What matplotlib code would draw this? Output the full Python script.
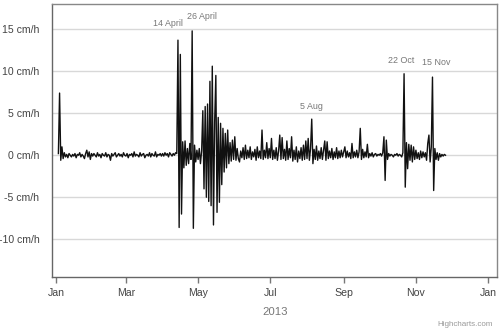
import numpy as np
import pandas as pd
import matplotlib
matplotlib.use('Agg')
import matplotlib.pyplot as plt
import matplotlib.dates as mdates

plt.rcParams['font.family'] = ['Liberation Sans', 'DejaVu Sans']

# 每月的日值 (cm/h)，1月从3日开始，11月到26日结束
month_start = {1: 3, 2: 1, 3: 1, 4: 1, 5: 1, 6: 1, 7: 1, 8: 1, 9: 1, 10: 1, 11: 1}
month_values = {
    1: [0.2, 7.4, -0.6, 1.0, -0.4, 0.3, -0.2, 0.1, -0.3, 0.2,
        0.0, -0.2, 0.1, -0.1, 0.2, -0.3, 0.1, 0.0, 0.3, -0.2,
        0.1, -0.1, -0.4, 0.2, 0.6, -0.2, 0.4, -0.5, 0.2],
    2: [-0.1, 0.2, 0.0, -0.2, 0.3, -0.1, 0.1, -0.3, 0.2, 0.0,
        -0.1, 0.3, -0.2, 0.1, 0.0, -0.6, 0.2, -0.1, 0.1, 0.3,
        -0.2, 0.0, 0.2, -0.1, 0.1, -0.2, 0.3, 0.0],
    3: [-0.1, 0.2, -0.3, 0.1, 0.0, 0.2, -0.2, 0.4, -0.1, 0.1,
        0.0, -0.2, 0.3, -0.1, 0.1, 0.2, -0.3, 0.0, 0.1, -0.1,
        0.3, -0.2, 0.2, 0.0, -0.1, 0.4, -0.2, 0.1, 0.0, 0.2, -0.1],
    4: [0.2, -0.1, 0.3, 0.0, 0.2, -0.2, 0.3, 0.1, -0.1, 0.2,
        0.0, 0.3, 0.2, 13.7, -8.6, 12.0, -7.0, 1.6, -1.5, 1.7,
        -1.2, 0.8, -1.0, 1.4, -0.5, 14.8, -8.7, 1.2, -0.8, 0.6],
    5: [-0.5, 0.8, -1.0, 0.5, 5.3, -4.0, 5.8, -5.0, 6.1, -5.5,
        8.8, -6.0, 10.6, -8.3, 4.0, 9.5, -6.8, 4.5, -5.6, 3.8,
        -3.5, 3.2, -2.0, 2.6, -1.5, 3.0, -1.0, 1.5, -0.7, 1.8, -0.5],
    6: [2.2, -0.6, 0.8, -0.4, -0.8, 0.5, -0.3, 0.9, -0.5, 1.2,
        -0.4, 0.6, -0.3, 1.0, -0.5, 0.4, -0.2, 0.7, -0.6, 1.0,
        -0.3, 0.5, -0.4, 3.0, -0.5, 0.6, -0.3, 1.5, -0.4, 0.8],
    7: [-0.3, 2.0, -0.5, 0.6, -0.4, 0.9, -0.6, 0.5, 2.4, -0.5,
        2.1, -0.4, 0.7, -0.6, 1.7, -0.5, 0.8, -0.3, 2.2, -0.7,
        0.6, -0.5, 1.0, -0.8, 0.5, -0.4, 0.9, -0.6, 1.2, -0.5, 1.7],
    8: [-0.4, 2.0, -0.6, 0.8, 4.3, -1.0, 0.7, -0.5, 1.1, -0.6,
        0.5, -0.4, 0.9, -0.5, 0.6, 1.7, -0.6, 1.6, -0.4, 0.5,
        -0.3, 0.8, -0.5, 0.4, -0.3, 0.9, -0.4, 0.5, -0.3, 0.6, -0.2],
    9: [0.4, 1.0, -0.3, 0.5, -0.2, 0.3, -0.4, 1.4, -0.3, 0.4,
        -0.2, 0.6, -0.3, 0.4, 3.2, -0.5, 0.7, -0.3, 0.4, -0.2,
        1.3, -0.3, 0.2, -0.1, 0.3, -0.2, 0.1, 0.2, -0.1, 0.1],
    10: [0.0, 0.2, -0.1, 0.3, 2.2, -3.0, 1.8, -0.5, 0.2, -0.1,
         0.1, 0.0, -0.2, 0.1, 0.0, 0.2, -0.1, 0.1, 0.0, -0.2,
         0.3, 9.7, -3.8, 1.5, -1.6, 1.3, -0.6, 1.2, -0.8, 1.0, -0.5],
    11: [0.6, -0.4, 0.3, -0.5, 0.5, -0.3, 0.4, -0.2, 0.3, -0.6,
         1.4, 2.4, -0.8, 1.0, 9.3, -4.2, 0.8, -0.5, 0.3, -0.6,
         0.2, -0.2, 0.1, -0.1, 0.1, 0.0],
}

# 标注
ann_labels = ['14 April', '26 April', '5 Aug', '22 Oct', '15 Nov']
ann_dates = ['2013-04-14', '2013-04-26', '2013-08-05', '2013-10-22', '2013-11-15']
ann_offsets = [(-7, 9), (7, 7), (0, 6), (-2, 6), (3, 7)]  # points

yticks = [-10, -5, 0, 5, 10, 15]
xtick_months = ['2013-01-01', '2013-03-01', '2013-05-01', '2013-07-01',
                '2013-09-01', '2013-11-01', '2014-01-01']

# 拼接日期与数值
dates = []
values = []
for m, vals in month_values.items():
    start = pd.Timestamp(2013, m, month_start[m])
    for i, v in enumerate(vals):
        dates.append(start + pd.Timedelta(days=i))
        values.append(v)
series = pd.Series(values, index=pd.DatetimeIndex(dates))

fig = plt.figure(figsize=(5, 3.35), dpi=100)
ax = fig.add_axes([0.104, 0.173, 0.89, 0.815])

ax.plot(series.index, series.values, color='#111111', lw=1.0)

for lab, d, off in zip(ann_labels, ann_dates, ann_offsets):
    ts = pd.Timestamp(d)
    ax.annotate(lab, xy=(ts, series[ts]), xytext=off, textcoords='offset points',
                ha='center', va='bottom', fontsize=6.4, color='#777777')

ax.set_ylim(-14.5, 18)
ax.set_yticks(yticks)
ax.set_yticklabels(['{} cm/h'.format(t) for t in yticks])
ax.yaxis.grid(True, color='#d8d8d8', lw=1)
ax.set_axisbelow(True)
ax.tick_params(axis='y', length=0, pad=9, labelsize=7.6, labelcolor='#444444')

x0 = mdates.date2num(pd.Timestamp('2013-01-01'))
ax.set_xlim(x0 - 3.4, x0 + 372.5)
ax.set_xticks([mdates.date2num(pd.Timestamp(d)) for d in xtick_months])
ax.xaxis.set_major_formatter(mdates.DateFormatter('%b'))
ax.tick_params(axis='x', length=4, width=1, color='#777777', pad=4,
               labelsize=7.6, labelcolor='#444444')

for s in ax.spines.values():
    s.set_color('#888888')
    s.set_linewidth(1)
ax.spines['left'].set_color('#666666')
ax.spines['bottom'].set_color('#666666')

fig.text(0.55, 0.068, '2013', ha='center', va='center', fontsize=8.2, color='#777777')
fig.text(0.986, 0.03, 'Highcharts.com', ha='right', va='center', fontsize=5.8, color='#999999')

fig.savefig('out.png', dpi=100)
